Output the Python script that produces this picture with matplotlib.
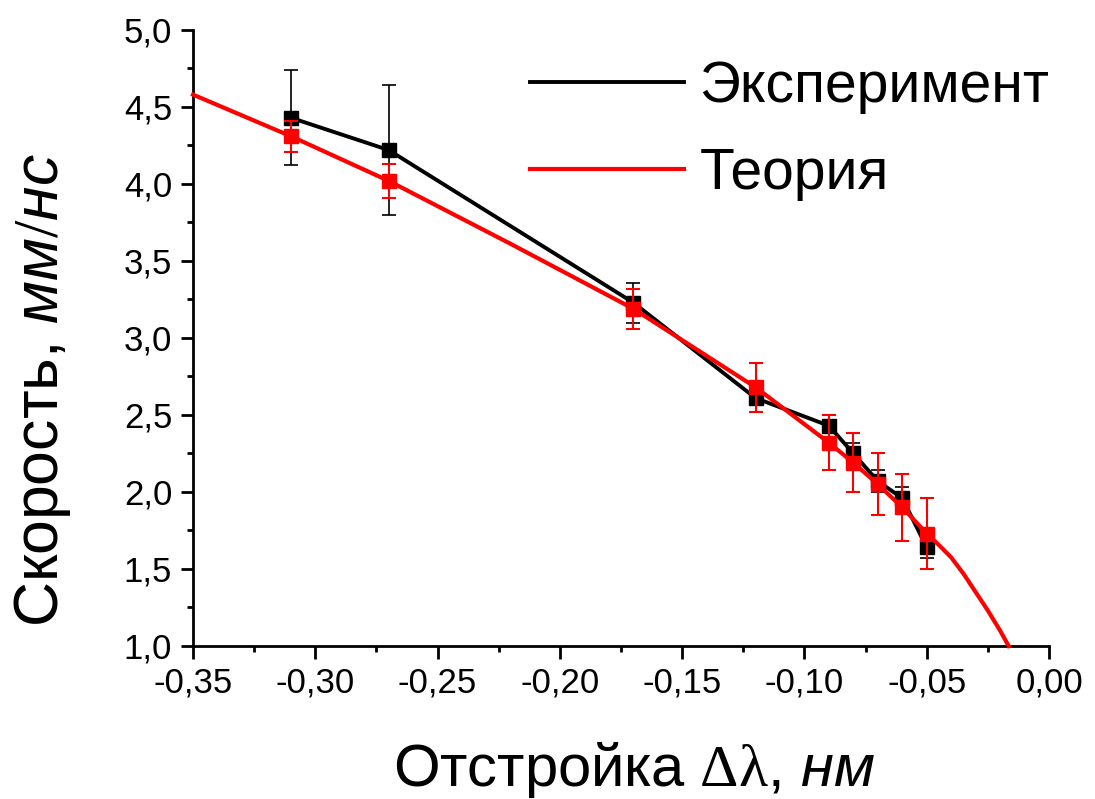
import matplotlib.pyplot as plt
from matplotlib.ticker import MultipleLocator, FuncFormatter

plt.rcParams['font.family'] = ['Liberation Sans', 'DejaVu Sans']
plt.rcParams['mathtext.fontset'] = 'custom'
plt.rcParams['mathtext.rm'] = 'Liberation Serif'
plt.rcParams['mathtext.it'] = 'Liberation Sans:italic'

# эксперимент
x_exp = [-0.31, -0.27, -0.17, -0.12, -0.09, -0.08, -0.07, -0.06, -0.05]
v_exp = [4.43, 4.22, 3.23, 2.61, 2.43, 2.25, 2.07, 1.96, 1.64]
err_exp = [0.31, 0.42, 0.13, 0.09, 0.07, 0.07, 0.07, 0.07, 0.07]

# теория в точках эксперимента
v_th = [4.31, 4.02, 3.19, 2.68, 2.32, 2.19, 2.05, 1.90, 1.73]
err_th = [0.10, 0.11, 0.13, 0.16, 0.18, 0.19, 0.20, 0.22, 0.23]

# теоретическая кривая
x_curve = [-0.35, -0.31, -0.27, -0.22, -0.17, -0.12, -0.09, -0.08, -0.07, -0.06, -0.05, -0.045, -0.04, -0.035, -0.03, -0.025, -0.02, -0.0165]
v_curve = [4.58, 4.31, 4.02, 3.61, 3.19, 2.68, 2.32, 2.19, 2.05, 1.90, 1.73, 1.655, 1.575, 1.47, 1.35, 1.23, 1.10, 1.0]

fig = plt.figure(figsize=(10.95, 7.99), dpi=100)
ax = fig.add_axes([0.1763, 0.1915, 0.958 - 0.1763, 0.9625 - 0.1915])

ax.errorbar(x_exp, v_exp, yerr=err_exp, fmt='none', ecolor='black', elinewidth=1.2, capsize=5, capthick=1.2, zorder=2)
ax.plot(x_exp, v_exp, color='black', lw=2.8, label='Эксперимент', zorder=3)
ax.plot(x_exp, v_exp, 's', color='black', ms=10, zorder=3)
ax.errorbar(x_exp, v_th, yerr=err_th, fmt='none', ecolor='red', elinewidth=1.5, capsize=5, capthick=1.5, zorder=4)
ax.plot(x_exp, v_th, 's', color='red', ms=10, zorder=5)
ax.plot(x_curve, v_curve, color='red', lw=3, label='Теория', zorder=5, clip_on=False)

ax.set_xlim(-0.35, 0.0)
ax.set_ylim(1.0, 5.0)
ax.xaxis.set_major_locator(MultipleLocator(0.05))
ax.xaxis.set_minor_locator(MultipleLocator(0.025))
ax.yaxis.set_major_locator(MultipleLocator(0.5))
ax.yaxis.set_minor_locator(MultipleLocator(0.25))
ax.xaxis.set_major_formatter(FuncFormatter(lambda v, p: f'{v:.2f}'.replace('.', ',').replace('-0,00', '0,00')))
ax.yaxis.set_major_formatter(FuncFormatter(lambda v, p: f'{v:.1f}'.replace('.', ',')))

for s in ['top', 'right']:
    ax.spines[s].set_visible(False)
for s in ['left', 'bottom']:
    ax.spines[s].set_linewidth(2)
ax.tick_params(which='major', length=9, width=2, labelsize=25, direction='out')
ax.tick_params(which='minor', length=4.5, width=2, direction='out')
ax.tick_params(axis='x', which='major', pad=6)
ax.tick_params(axis='y', which='major', pad=6)

ax.set_xlabel(r'Отстройка $\mathrm{\Delta\lambda}$, $\mathit{нм}$', fontsize=43)
ax.set_ylabel(r'Скорость, $\mathit{мм/нс}$', fontsize=45)
ax.xaxis.set_label_coords(0.515, -0.152)
ax.yaxis.set_label_coords(-0.14, 0.415)

ax.legend(loc='upper left', bbox_to_anchor=(0.394, 0.952), frameon=False, fontsize=41,
          handlelength=2.7, handletextpad=0.27, labelspacing=0.58, borderpad=0, borderaxespad=0)

plt.savefig('out.png', dpi=100)
